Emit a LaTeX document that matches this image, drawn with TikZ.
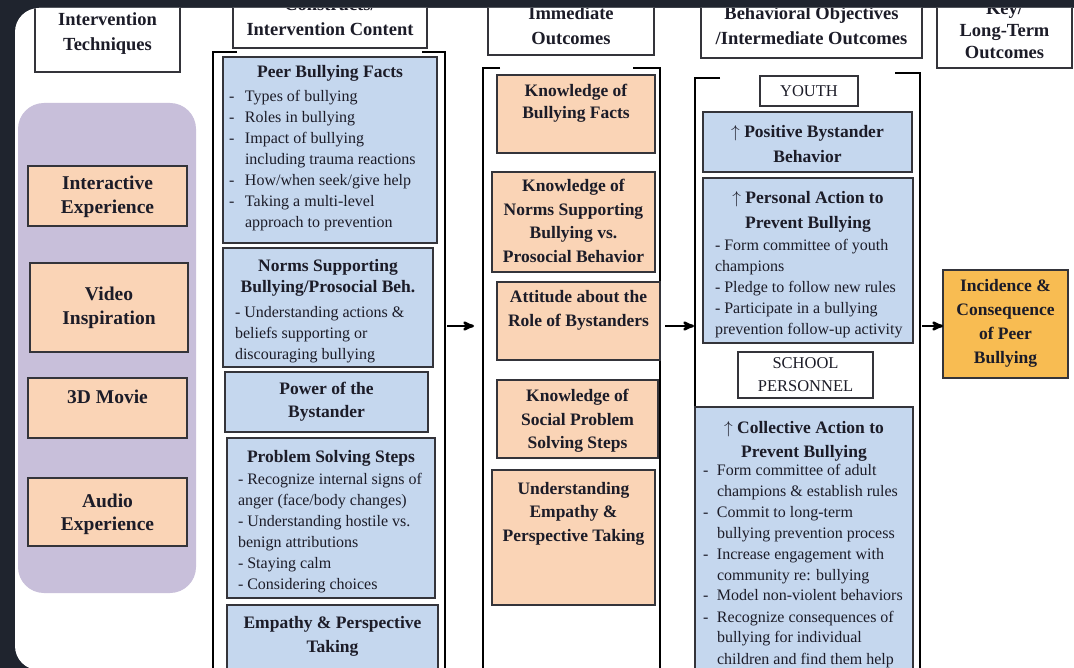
\documentclass[tikz,border=0pt]{standalone}
\usepackage{fontspec}
\setmainfont{Liberation Serif}
\usetikzlibrary{arrows, positioning}
\definecolor{screen}{RGB}{31,36,46}
\definecolor{ink}{RGB}{28,28,40}
\definecolor{edge}{RGB}{52,52,58}
\definecolor{lavender}{RGB}{200,191,218}
\definecolor{peach}{RGB}{250,212,182}
\definecolor{skyblue}{RGB}{197,215,238}
\definecolor{gold}{RGB}{248,188,82}
\newcommand{\listpart}[2]{\par\vspace{#1}\fontsize{16}{21}\selectfont\mdseries\raggedright\leftskip=#2\relax}
\newcommand{\hdash}[1][15pt]{\makebox[#1][l]{-}}
\newcommand{\hcont}[1][15pt]{\hspace*{#1}}
\tikzset{
x=1pt, y=-1pt, % one unit is one pixel of the sketch, y runs downwards
>=stealth', % makes the arrow heads bold
cell/.style n args={3}{execute at begin node={\begin{minipage}[t][#1pt][t]{#2pt}\selectfont\centering\rule{0pt}{#3pt}}, execute at end node={\end{minipage}}}, % height, width, first baseline
boxed/.style={draw=edge, line width=1.5pt, inner xsep=4pt, inner ysep=0pt, outer sep=0pt, anchor=north west, text=ink}, % every box is placed by its top left corner
colhead/.style={boxed, fill=white, line width=1.2pt, font=\fontsize{18.5}{25}\selectfont\bfseries},
technique/.style={boxed, fill=peach, font=\fontsize{19.5}{23.5}\selectfont\bfseries},
construct/.style={boxed, fill=skyblue, font=\fontsize{17.5}{24}\selectfont\bfseries},
outcome/.style={boxed, fill=peach, font=\fontsize{17.5}{23.5}\selectfont\bfseries},
objective/.style={boxed, fill=skyblue, font=\fontsize{17.5}{24.5}\selectfont\bfseries},
audience/.style={boxed, fill=white, font=\fontsize{16.5}{23}\selectfont},
longterm/.style={boxed, fill=gold, font=\fontsize{17.5}{23.7}\selectfont\bfseries},
bracket/.style={line width=2.5pt, black}, % the open frames round the columns
link/.style={->, line width=2.5pt, black}
}

\begin{document}
\begin{tikzpicture}
\useasboundingbox (0,0) rectangle (1074,668);
\fill[screen] (0,0) rectangle (1074,668);
\begin{scope}
\clip[rounded corners=24pt] (15,8) rectangle (1110,670);
\fill[white] (0,0) rectangle (1110,700);

% column heads
\node[colhead, cell={92}{137}{46}] (h1) at (35,-20) {Intervention\\Techniques};
\node[colhead, cell={68}{186}{31}] (h2) at (233,-20) {Constructs/\\Intervention Content};
\node[colhead, cell={75}{158}{40}] (h3) at (488,-20) {Immediate\\Outcomes};
\node[colhead, cell={78}{213}{40}] (h4) at (701,-20) {Behavioral Objectives\\/Intermediate Outcomes};
\node[colhead, cell={88}{127}{35}] (h5) at (937,-20) {Key/\\[-3pt]Long-Term\\[-3pt]Outcomes};

% techniques
\fill[lavender, rounded corners=26pt] (18,103) rectangle (196,593);
\node[technique, cell={60}{151}{24}] (interactive) at (28,166) {Interactive\\Experience};
\node[technique, cell={89}{150}{38}] (video) at (30,263) {Video\\Inspiration};
\node[technique, cell={60}{151}{25}] (movie) at (28,378) {3D Movie};
\node[technique, cell={68}{151}{29}] (audio) at (28,478) {Audio\\Experience};

% constructs
\draw[bracket] (237,52) -- (213,52) -- (213,690);
\draw[bracket] (422,52) -- (445,52) -- (445,690);
\node[construct, cell={186}{206}{21}] (facts) at (223,57) {Peer Bullying Facts\listpart{2.5pt}{2pt}\hdash[16pt]Types of bullying\\\hdash[16pt]Roles in bullying\\\hdash[16pt]Impact of bullying\\\hcont[16pt]including trauma reactions\\\hdash[16pt]How/when seek/give help\\\hdash[16pt]Taking a multi-level\\\hcont[16pt]approach to prevention\par};
\node[construct, cell={119}{202}{24}] (norms) at (223,248) {Norms Supporting\\[-3pt]Bullying/Prosocial Beh.\listpart{3.5pt}{8pt}- Understanding actions \&\\beliefs supporting or\\discouraging bullying\par};
\node[construct, cell={60}{195}{23}] (power) at (225,372) {Power of the\\[-1pt]Bystander};
\node[construct, cell={160}{200}{24}] (steps) at (227,438) {Problem Solving Steps\listpart{1.5pt}{7pt}- Recognize internal signs of\\anger (face/body changes)\\- Understanding hostile vs.\\benign attributions\\- Staying calm\\- Considering choices\par};
\node[construct, cell={95}{203}{23}] (empathy) at (227,605) {Empathy \& Perspective\\Taking};

% immediate outcomes
\draw[bracket] (500,68) -- (483,68) -- (483,690);
\draw[bracket] (633,68) -- (660,68) -- (660,690);
\node[outcome, cell={78}{150}{22}] (kfacts) at (497,75) {Knowledge of\\[-1.5pt]Bullying Facts};
\node[outcome, cell={100}{155}{20}] (knorms) at (492,172) {Knowledge of\\Norms Supporting\\Bullying vs.\\Prosocial Behavior};
\node[outcome, cell={78}{155}{21}] (attitude) at (497,282) {Attitude about the\\Role of Bystanders};
\node[outcome, cell={78}{153}{22}] (ksteps) at (497,380) {Knowledge of\\Social Problem\\Solving Steps};
\node[outcome, cell={135}{155}{24}] (kempathy) at (492,470) {Understanding\\Empathy \&\\Perspective Taking};

% behavioral objectives
\draw[bracket] (720,78) -- (695,78) -- (695,690);
\draw[bracket] (895,73) -- (920,73) -- (920,690);
\node[audience, cell={30}{90}{21}] (youth) at (760,76) {YOUTH};
\node[objective, cell={60}{201}{26}] (bystander) at (703,112) {{\mdseries$\uparrow$} Positive Bystander\\Behavior};
\node[objective, cell={165}{202}{26}] (personal) at (703,178) {{\mdseries$\uparrow$} Personal Action to\\Prevent Bullying\listpart{1pt}{8pt}- Form committee of youth\\champions\\- Pledge to follow new rules\\- Participate in a bullying\\prevention follow-up activity\par};
\node[audience, cell={46}{127}{17}] (school) at (738,352) {SCHOOL\\PERSONNEL};
\node[objective, cell={293}{210}{26}] (collective) at (695,407) {{\mdseries$\uparrow$} Collective Action to\\Prevent Bullying\listpart{-3.5pt}{4pt}\hdash[14pt]Form committee of adult\\\hcont[14pt]champions \& establish rules\\\hdash[14pt]Commit to long-term\\\hcont[14pt]bullying prevention process\\\hdash[14pt]Increase engagement with\\\hcont[14pt]community re: bullying\\\hdash[14pt]Model non-violent behaviors\\\hdash[14pt]Recognize consequences of\\\hcont[14pt]bullying for individual\\\hcont[14pt]children and find them help\par};

% long-term outcome
\node[longterm, cell={108}{117}{22}] (incidence) at (943,270) {Incidence \&\\Consequence\\of Peer\\Bullying};

\coordinate (c2out) at (447,326);
\coordinate (c3in) at (474,326);
\coordinate (c3out) at (665,326);
\coordinate (c4in) at (694,326);
\coordinate (c4out) at (922,326);
\draw[link] (c2out) -- (c3in);
\draw[link] (c3out) -- (c4in);
\draw[link] (c4out) -- (c4out -| incidence.west);
\end{scope}
\end{tikzpicture}
\end{document}
